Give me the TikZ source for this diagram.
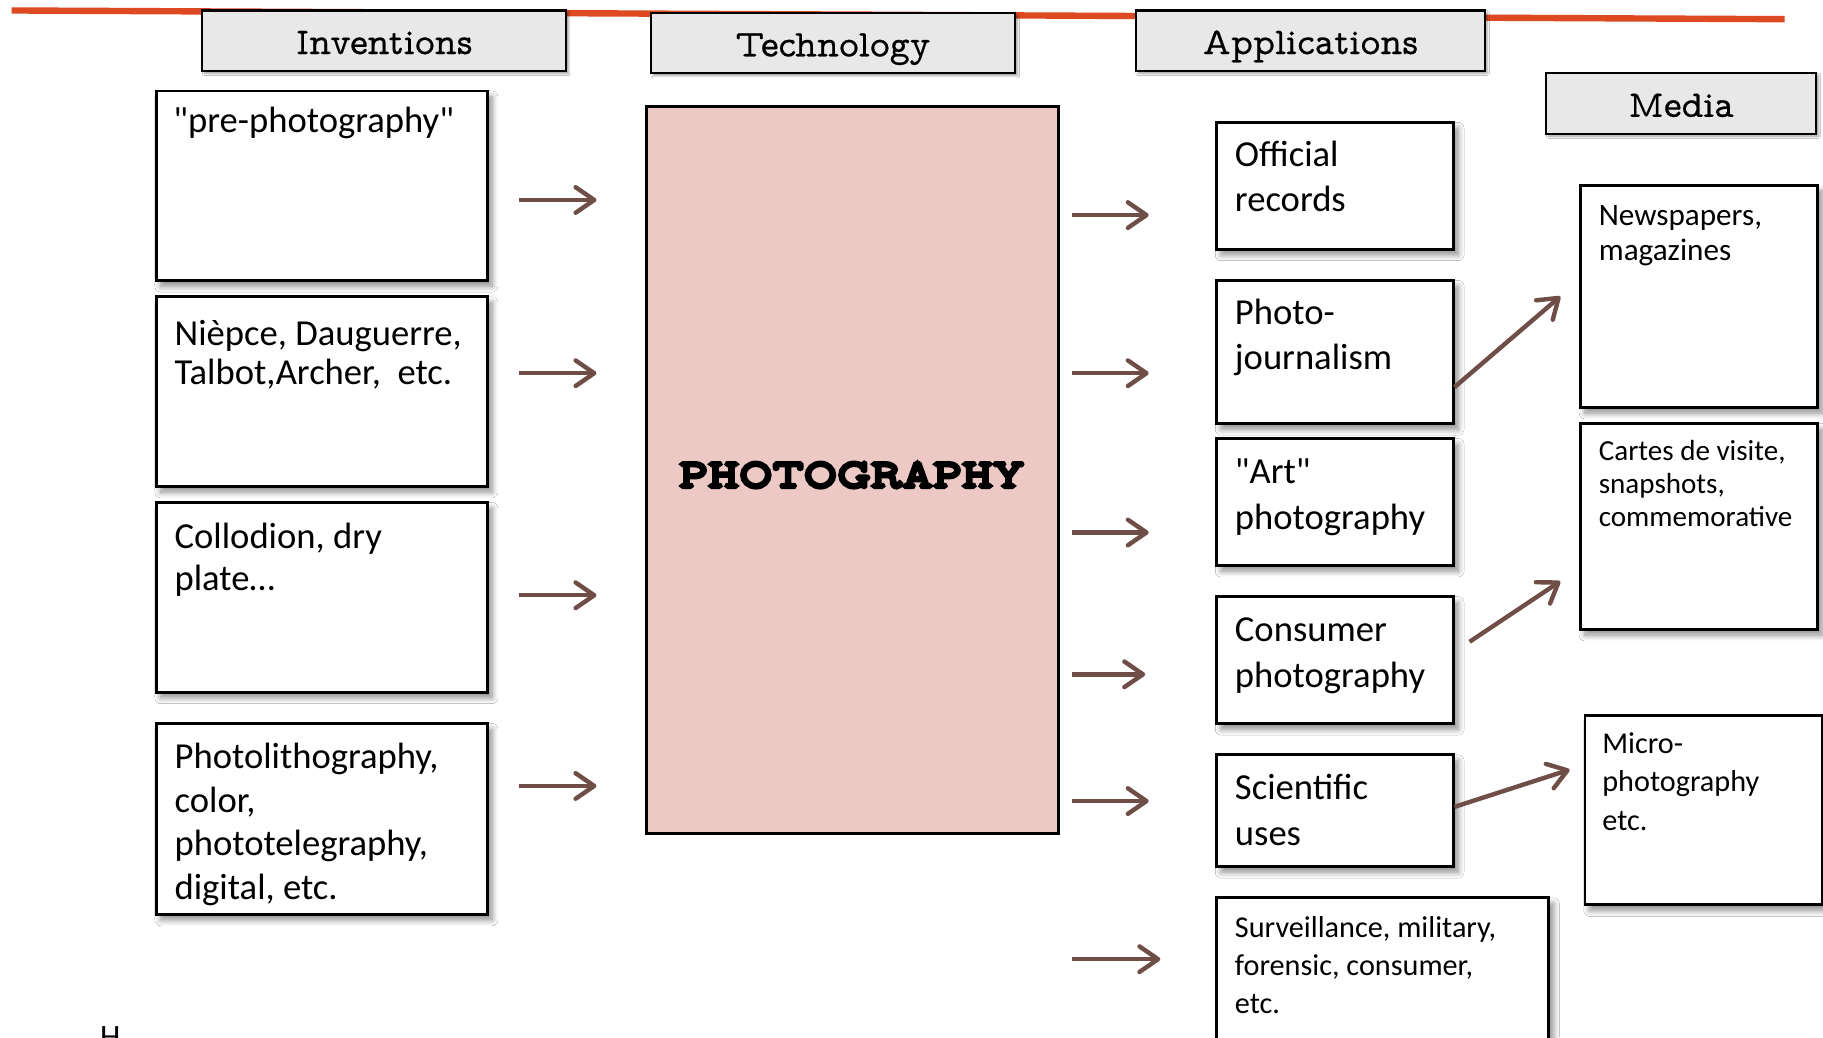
\documentclass[tikz,border=0pt]{standalone}
\usepackage{fontspec}
\setmainfont{Carlito}[Ligatures=TeXOff]
\newfontfamily\hdrfont{lmmonoprop10-regular.otf}[FakeBold=0.6]
\newfontfamily\bigfont{lmmonoprop10-regular.otf}[FakeBold=10, LetterSpace=3]
\usetikzlibrary{arrows.meta,shadows.blur}

\definecolor{rulered}{RGB}{221,74,34}
\definecolor{arrowbrown}{RGB}{112,78,72}
\definecolor{hdrgray}{RGB}{232,232,232}
\definecolor{photopink}{RGB}{237,201,197}

\tikzset{
  softshadow/.style={blur shadow={shadow xshift=4pt, shadow yshift=-5pt,
      shadow blur radius=5pt, shadow blur steps=8, shadow opacity=45}},
  hdr/.style={draw=black, line width=2pt, fill=hdrgray, inner sep=0pt,
      text height=29pt, text depth=6pt,
      blur shadow={shadow xshift=2pt, shadow yshift=-2pt, shadow blur radius=2pt,
      shadow blur steps=4, shadow opacity=40},
      font=\hdrfont\fontsize{32.5}{38}\selectfont},
  box/.style={draw=black, line width=2.5pt, fill=white, anchor=north west,
      inner sep=0pt, softshadow},
  % multi-line texts are placed by the baseline of their last line
  txt/.style={anchor=base west, inner sep=0pt, align=left},
  bigtxt/.style={txt, font=\fontsize{31.5}{38}\selectfont},
  apptxt/.style={txt, font=\fontsize{31.5}{39}\selectfont},
  smalltxt/.style={txt, font=\fontsize{26}{30}\selectfont},
  arr/.style={draw=arrowbrown, line width=3.8pt,
      -{Straight Barb[length=16pt, width=22pt, line width=3.8pt, round]}},
}

\begin{document}
\begin{tikzpicture}[x=1pt, y=-1pt]
\useasboundingbox (0,0) rectangle (1568,892);
\fill[white] (0,0) rectangle (1568,892);

% rule across the top
\coordinate (rl1) at (10,9);
\coordinate (rl2) at (1535,16.5);
\draw[rulered, line width=5.5pt] (rl1) -- (rl2);

% column headers
\node[hdr, minimum width=313pt, minimum height=52pt] (hinv)  at (330.5,35)  {Inventions};
\node[hdr, minimum width=313pt, minimum height=52pt] (htech) at (716.5,37)  {Technology};
\node[hdr, minimum width=300pt, minimum height=52pt] (happ)  at (1127,35)   {Applications};
\node[hdr, minimum width=232pt, minimum height=52pt] (hmed)  at (1446,89)   {Media};

% inventions
\node[box, minimum width=285pt, minimum height=163pt] (b1) at (133,77) {};
\node[box, minimum width=285pt, minimum height=163pt] (b2) at (133,254) {};
\node[box, minimum width=285pt, minimum height=163pt] (b3) at (133,431) {};
\node[box, minimum width=285pt, minimum height=164pt] (b4) at (133,621) {};
\node[bigtxt] (b1t) at (149,114) {"pre-photography"};
\node[bigtxt, font=\fontsize{31.5}{34}\selectfont] (b2t) at (150,331)
  {Nièpce, Dauguerre,\\Talbot,Archer,~~etc.};
\node[bigtxt, font=\fontsize{31.5}{35.5}\selectfont] (b3t) at (150,507.5)
  {Collodion, dry\\plate…};
\node[bigtxt, font=\fontsize{31.5}{37.5}\selectfont] (b4t) at (150,773.5)
  {Photolithography,\\color,\\phototelegraphy,\\digital, etc.};

% technology
\node[draw=black, line width=2.5pt, fill=photopink, anchor=north west,
      minimum width=354pt, minimum height=626pt, inner sep=0pt] (photo) at (555,90) {};
\node[anchor=base, inner sep=0pt, font=\bigfont\fontsize{34}{40}\selectfont]
  (photot) at (732.5,419) {PHOTOGRAPHY};

% applications
\node[box, minimum width=204pt, minimum height=109pt] (a1) at (1045,104) {};
\node[box, minimum width=204pt, minimum height=123pt] (a2) at (1045,240) {};
\node[box, minimum width=204pt, minimum height=109pt] (a3) at (1045,376) {};
\node[box, minimum width=204pt, minimum height=109pt] (a4) at (1045,512) {};
\node[box, minimum width=204pt, minimum height=96pt]  (a5) at (1045,648) {};
\node[box, minimum width=286pt, minimum height=150pt] (a6) at (1045,771) {};
\node[apptxt] (a1t) at (1062,182) {Official\\records};
\node[apptxt] (a2t) at (1062,318) {Photo-\\journalism};
\node[apptxt] (a3t) at (1062,455) {"Art"\\photography};
\node[apptxt] (a4t) at (1062,591) {Consumer\\photography};
\node[apptxt] (a5t) at (1062,727) {Scientific\\uses};
\node[smalltxt, font=\fontsize{26}{33}\selectfont] (a6t) at (1062,872)
  {Surveillance, military,\\forensic, consumer,\\etc.};

% media
\node[box, minimum width=204pt, minimum height=191pt] (m1) at (1358,158) {};
\node[box, minimum width=204pt, minimum height=177pt] (m2) at (1358,363) {};
\node[box, minimum width=204pt, minimum height=163pt] (m3) at (1362,614) {};
\node[smalltxt, font=\fontsize{26.8}{30}\selectfont] (m1t) at (1375,224) {Newspapers,\\magazines};
\node[smalltxt, font=\fontsize{25}{28.5}\selectfont] (m2t) at (1375,453)
  {Cartes de visite,\\snapshots,\\commemorative};
\node[smalltxt, font=\fontsize{26}{33}\selectfont] (m3t) at (1378,714)
  {Micro-\\photography\\etc.};

% start of a line of text running off the bottom edge
\node[anchor=north west, inner sep=0pt, font=\fontsize{28}{34}\selectfont] (cut) at (86,883) {H};

% arrows: inventions -> technology
\coordinate (l1s) at (446,172); \coordinate (l1e) at (513,172);
\coordinate (l2s) at (446,321); \coordinate (l2e) at (513,321);
\coordinate (l3s) at (446,512); \coordinate (l3e) at (513,512);
\coordinate (l4s) at (446,676); \coordinate (l4e) at (513,676);
\draw[arr] (l1s) -- (l1e);
\draw[arr] (l2s) -- (l2e);
\draw[arr] (l3s) -- (l3e);
\draw[arr] (l4s) -- (l4e);

% arrows: technology -> applications
\coordinate (r1s) at (922,185); \coordinate (r1e) at (988,185);
\coordinate (r2s) at (922,321); \coordinate (r2e) at (988,321);
\coordinate (r3s) at (922,458); \coordinate (r3e) at (988,458);
\coordinate (r4s) at (922,580); \coordinate (r4e) at (985,580);
\coordinate (r5s) at (922,689); \coordinate (r5e) at (988,689);
\coordinate (r6s) at (922,825); \coordinate (r6e) at (998,825);
\draw[arr] (r1s) -- (r1e);
\draw[arr] (r2s) -- (r2e);
\draw[arr] (r3s) -- (r3e);
\draw[arr] (r4s) -- (r4e);
\draw[arr] (r5s) -- (r5e);
\draw[arr] (r6s) -- (r6e);

% arrows: applications -> media
\coordinate (d1s) at (1251,333); \coordinate (d1e) at (1342,255);
\coordinate (d2s) at (1264,552); \coordinate (d2e) at (1342,500);
\coordinate (d3s) at (1251,694); \coordinate (d3e) at (1350,662);
\draw[arr] (d1s) -- (d1e);
\draw[arr] (d2s) -- (d2e);
\draw[arr] (d3s) -- (d3e);
\end{tikzpicture}
\end{document}
